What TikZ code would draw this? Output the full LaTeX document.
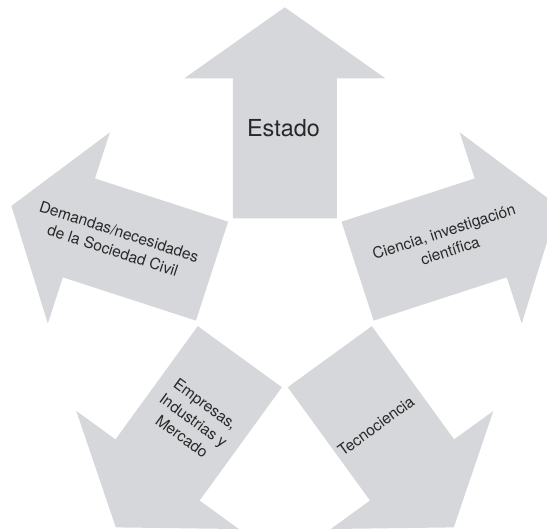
\documentclass[tikz,border=0pt]{standalone}
\usepackage{fontspec}
\setmainfont{TeX Gyre Heros}
\definecolor{arrowgray}{RGB}{214,215,218}
\definecolor{textgray}{RGB}{40,40,40}
\begin{document}
\begin{tikzpicture}[x=1pt,y=-1pt,
  bigarrow/.style={fill=arrowgray,draw=none},
  lbl/.style={text=textgray,align=center,inner sep=0pt,font=\fontsize{15.5}{20}\selectfont}]
\useasboundingbox (0,0) rectangle (547,530);
\clip (0,0) rectangle (547,530);
\coordinate (c) at (284.8,294.8);
\foreach \ang in {0,72,144,216,288}{
  \begin{scope}[shift={(c)},rotate=\ang]
    \path[bigarrow] (-52pt,76.5pt) -- (-52pt,216.5pt) -- (-100.5pt,216.5pt) -- (0pt,287.5pt)
      -- (100.5pt,216.5pt) -- (52pt,216.5pt) -- (52pt,76.5pt) -- cycle;
  \end{scope}
}
\node[lbl,font=\fontsize{23.4}{28}\selectfont] (estado) at (283.5,128.3) {Estado};
\node[lbl,rotate=-18] (demandas) at (116,241) {Demandas/necesidades\\de la Sociedad Civil};
\node[lbl,rotate=18] (ciencia) at (447,241) {Ciencia, investigación\\científica};
\node[lbl,rotate=-36] (empresas) at (193.7,420.2) {Empresas,\\Industrias y\\Mercado};
\node[lbl,rotate=36] (tecno) at (376,426) {Tecnociencia};
\end{tikzpicture}
\end{document}
